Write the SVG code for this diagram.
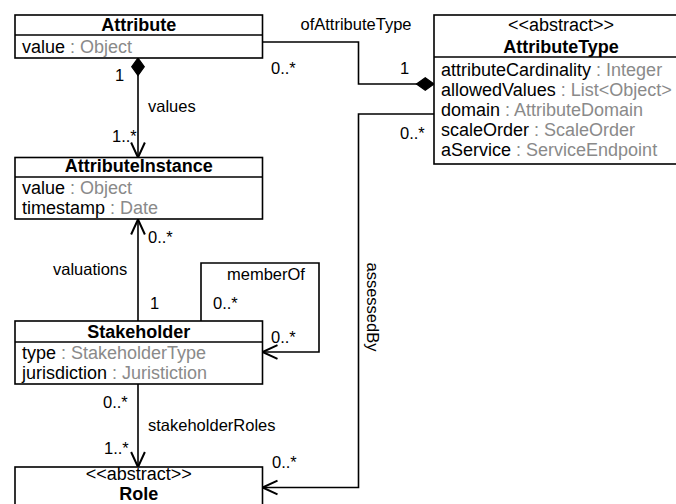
<svg xmlns="http://www.w3.org/2000/svg" width="676" height="504" viewBox="0 0 676 504">
  <style>
    .box { fill: #fff; stroke: #000; stroke-width: 1.6; }
    .div { stroke: #000; stroke-width: 1.6; }
    .t { font-family: "Liberation Sans", Arial, Helvetica, sans-serif; font-size: 18px; fill: #000; }
    .b { font-weight: bold; }
    .c { text-anchor: middle; }
    .ty { fill: #8a8a8a; }
    .lbl { font-family: "Liberation Sans", Arial, Helvetica, sans-serif; font-size: 16.5px; fill: #000; }
    .edge { fill: none; stroke: #000; stroke-width: 1.6; }
  </style>
  <defs>
    <marker id="open" markerUnits="userSpaceOnUse" markerWidth="20" markerHeight="20" viewBox="-14 -8 16 16" refX="0" refY="0" orient="auto" overflow="visible">
      <path d="M -12 -5.5 L 0 0 L -12 5.5" fill="none" stroke="#000" stroke-width="1.6"/>
    </marker>
    <marker id="diamond" markerUnits="userSpaceOnUse" markerWidth="20" markerHeight="20" viewBox="-1 -7 16 14" refX="0" refY="0" orient="auto" overflow="visible">
      <path d="M 0 0 L 7 -5 L 14 0 L 7 5 Z" fill="#000" stroke="#000" stroke-width="1"/>
    </marker>
  </defs>

  <!-- associations -->
  <g id="connectors">
    <path class="edge" d="M 138 58 L 138 157.5" marker-start="url(#diamond)" marker-end="url(#open)"/>
    <path class="edge" d="M 434 84 L 358.5 84 L 358.5 42 L 262.5 42" marker-start="url(#diamond)"/>
    <path class="edge" d="M 138 321 L 138 219.5" marker-end="url(#open)"/>
    <path class="edge" d="M 201 321 L 201 263 L 319 263 L 319 352 L 262.5 352" marker-end="url(#open)"/>
    <path class="edge" d="M 138 384 L 138 467" marker-end="url(#open)"/>
    <path class="edge" d="M 434 114 L 358.5 114 L 358.5 487.5 L 262.5 487.5" marker-end="url(#open)"/>

    <text class="lbl" x="115" y="81">1</text>
    <text class="lbl" x="148" y="111.5">values</text>
    <text class="lbl" x="112" y="142">1..*</text>
    <text class="lbl c" x="356" y="30">ofAttributeType</text>
    <text class="lbl" x="271" y="74">0..*</text>
    <text class="lbl" x="400" y="74">1</text>
    <text class="lbl" x="400" y="139">0..*</text>
    <text class="lbl c" transform="translate(366.5 307) rotate(90)">assessedBy</text>
    <text class="lbl" x="148" y="243">0..*</text>
    <text class="lbl" x="53" y="275">valuations</text>
    <text class="lbl" x="150" y="309">1</text>
    <text class="lbl" x="227" y="280">memberOf</text>
    <text class="lbl" x="213" y="309">0..*</text>
    <text class="lbl" x="271" y="343">0..*</text>
    <text class="lbl" x="103" y="408">0..*</text>
    <text class="lbl" x="148" y="431">stakeholderRoles</text>
    <text class="lbl" x="104" y="454">1..*</text>
    <text class="lbl" x="272" y="468">0..*</text>
  </g>

  <g id="Attribute">
    <rect class="box" x="15" y="15" width="247.5" height="43"/>
    <line class="div" x1="15" y1="35" x2="262.5" y2="35"/>
    <text class="t b c" x="138.75" y="31">Attribute</text>
    <text class="t" x="22" y="52.5">value <tspan class="ty">: Object</tspan></text>
  </g>

  <g id="AttributeType">
    <rect class="box" x="434" y="15" width="254" height="149"/>
    <line class="div" x1="434" y1="57" x2="688" y2="57"/>
    <text class="t c" x="561" y="31">&lt;&lt;abstract&gt;&gt;</text>
    <text class="t b c" x="561" y="52.5">AttributeType</text>
    <text class="t" x="441" y="76">attributeCardinality <tspan class="ty">: Integer</tspan></text>
    <text class="t" x="441" y="96">allowedValues <tspan class="ty">: List&lt;Object&gt;</tspan></text>
    <text class="t" x="441" y="116">domain <tspan class="ty">: AttributeDomain</tspan></text>
    <text class="t" x="441" y="136">scaleOrder <tspan class="ty">: ScaleOrder</tspan></text>
    <text class="t" x="441" y="156">aService <tspan class="ty">: ServiceEndpoint</tspan></text>
  </g>

  <g id="AttributeInstance">
    <rect class="box" x="15" y="157.5" width="247.5" height="61.5"/>
    <line class="div" x1="15" y1="177" x2="262.5" y2="177"/>
    <text class="t b c" x="138.75" y="172">AttributeInstance</text>
    <text class="t" x="22" y="194">value <tspan class="ty">: Object</tspan></text>
    <text class="t" x="22" y="214">timestamp <tspan class="ty">: Date</tspan></text>
  </g>

  <g id="Stakeholder">
    <rect class="box" x="15" y="321" width="247.5" height="63"/>
    <line class="div" x1="15" y1="342" x2="262.5" y2="342"/>
    <text class="t b c" x="138.75" y="337.5">Stakeholder</text>
    <text class="t" x="22" y="358.5">type <tspan class="ty">: StakeholderType</tspan></text>
    <text class="t" x="22" y="378.5">jurisdiction <tspan class="ty">: Juristiction</tspan></text>
  </g>

  <g id="Role">
    <rect class="box" x="15" y="467" width="247.5" height="60"/>
    <text class="t c" x="138.75" y="479.5">&lt;&lt;abstract&gt;&gt;</text>
    <text class="t b c" x="138.75" y="500">Role</text>
  </g>
</svg>
